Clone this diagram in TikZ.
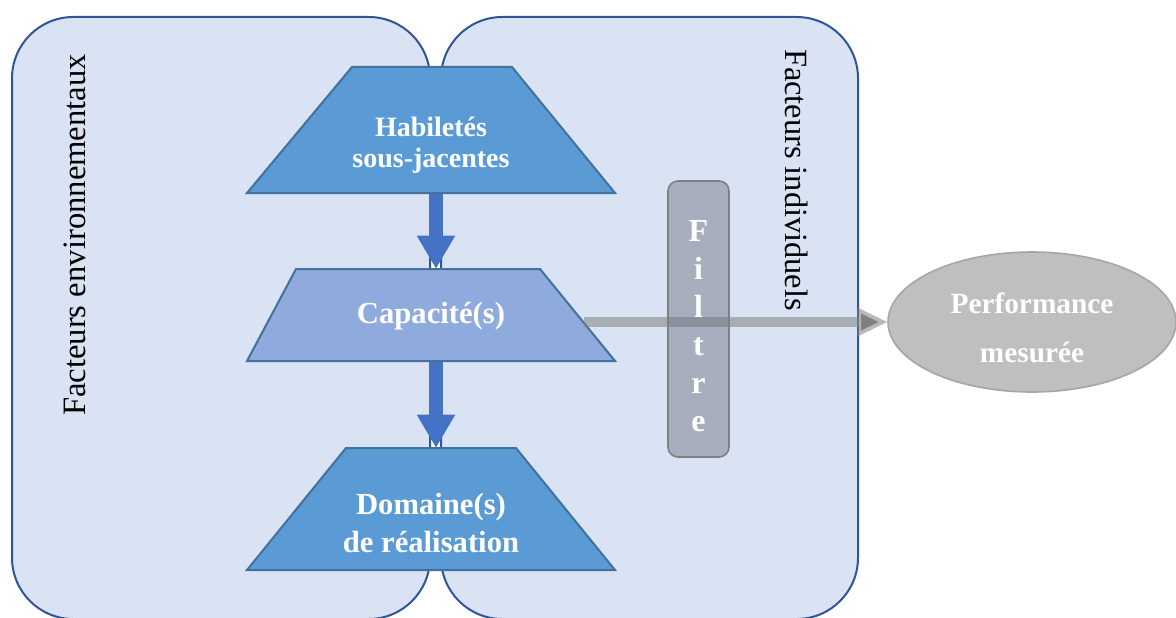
\documentclass[tikz,border=0pt]{standalone}
\usepackage{fontspec}
\setmainfont{Liberation Serif}
\usetikzlibrary{shapes.geometric,arrows.meta}

\definecolor{boxfill}{HTML}{DAE3F3}
\definecolor{boxline}{HTML}{2F5597}
\definecolor{trapdark}{HTML}{5B9BD5}
\definecolor{traplight}{HTML}{8FAADC}
\definecolor{trapline}{HTML}{41719C}
\definecolor{flecheblue}{HTML}{4472C4}
\definecolor{filtrefill}{RGB}{105,110,125}
\definecolor{perffill}{HTML}{BFBFBF}
\definecolor{perfline}{HTML}{A6A6A6}

\tikzset{
  facteurs/.style={draw=boxline,line width=1.5pt,fill=boxfill,rounded corners=46pt},
  trapeze/.style={draw=trapline,line width=1.5pt,line join=miter},
  blanc/.style={text=white,align=center,inner sep=0pt},
  descente/.style={draw=flecheblue,line width=10.5pt,-{Triangle[width=27pt,length=25pt]}},
}

\begin{document}
\begin{tikzpicture}[x=0.75pt,y=-0.75pt]
\useasboundingbox (0,0) rectangle (1176,617);

\draw[facteurs] (12,17) rectangle (430,619);
\draw[facteurs] (441,17) rectangle (858,619);

% points d'attache
\coordinate (hab-bas) at (436,193);
\coordinate (cap-haut) at (436,269);
\coordinate (cap-bas) at (436,361);
\coordinate (dom-haut) at (436,448);
\coordinate (cap-droite) at (584,322);

\draw[descente] (hab-bas) -- (cap-haut);
\draw[descente] (cap-bas) -- (dom-haut);

% trapezes
\draw[trapeze,fill=trapdark] (352,67) -- (512,67) -- (615,193) -- (247,193) -- cycle;
\draw[trapeze,fill=traplight] (296,269) -- (540,269) -- (615,361) -- (247,361) -- cycle;
\draw[trapeze,fill=trapdark] (346,448) -- (516,448) -- (615,570) -- (247,570) -- cycle;

\node[blanc,font=\fontsize{21}{23.5}\selectfont\bfseries] (hab) at (431,145) {Habilet\'es\\sous-jacentes};
\node[blanc,font=\fontsize{23}{27}\selectfont\bfseries] (cap) at (431,316) {Capacit\'e(s)};
\node[blanc,font=\fontsize{23}{28.5}\selectfont\bfseries] (dom) at (431,523) {Domaine(s)\\de r\'ealisation};

% facteurs
\node[rotate=90,font=\fontsize{24.5}{28}\selectfont] (env) at (75,235) {Facteurs environnementaux};
\node[rotate=-90,font=\fontsize{24.3}{28}\selectfont] (ind) at (797,180) {Facteurs individuels};

\draw[draw=gray,draw opacity=0.55,line width=7.5pt,-{Triangle[width=20pt,length=23pt]}] (cap-droite) -- (888,322) coordinate (perf-pointe);

% filtre
\node[draw=gray,line width=1.2pt,fill=filtrefill,fill opacity=0.45,rounded corners=7.5pt,
  minimum width=45.75pt,minimum height=207pt,inner sep=0pt] (filtre) at (698.5,319) {};
\node[blanc,font=\fontsize{24}{28.4}\selectfont\bfseries] (filtretxt) at (698.5,326)
  {F\\i\\l\\t\\r\\e};

% performance
\node[ellipse,draw=perfline,line width=1.2pt,fill=perffill,minimum width=216pt,minimum height=105pt,
  inner sep=0pt] (perf) at (1032,322) {};
\node[blanc,font=\fontsize{22}{37}\selectfont\bfseries] (perftxt) at (1032,328) {Performance\\mesur\'ee};

\end{tikzpicture}
\end{document}
